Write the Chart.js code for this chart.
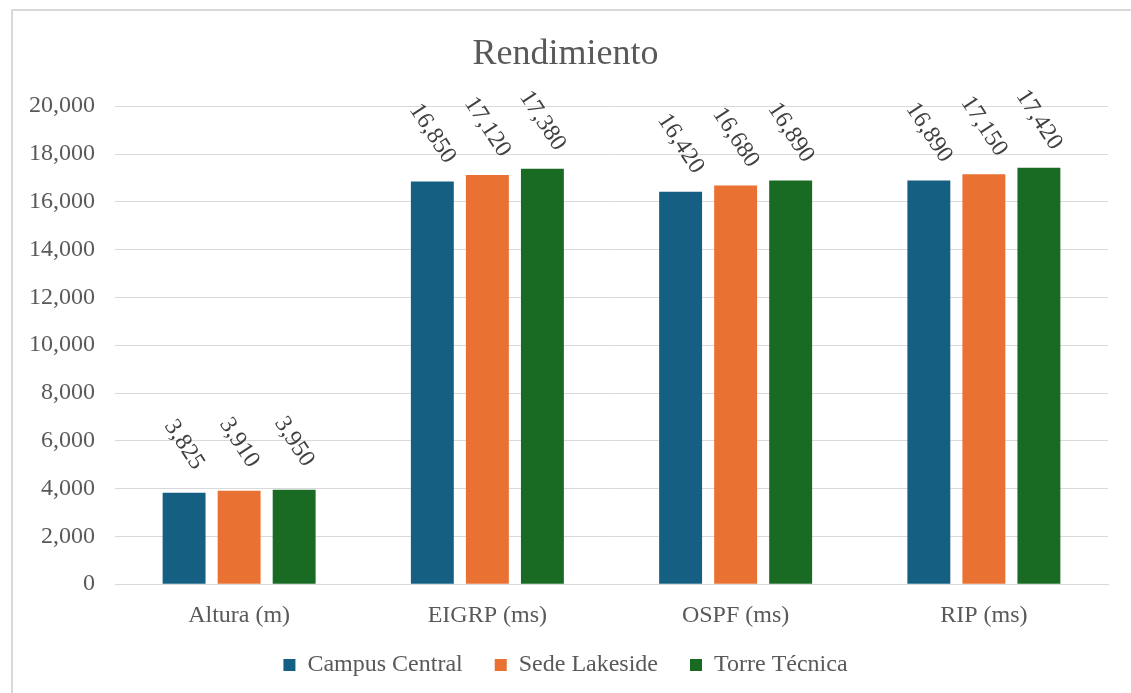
<!DOCTYPE html>
<html>
<head>
<meta charset="utf-8">
<script src="https://cdn.jsdelivr.net/npm/chart.js@4.4.1/dist/chart.umd.min.js"></script>
<style>
  html, body { margin: 0; padding: 0; background: #fff; overflow: hidden; }
  #frame { position: absolute; left: 11px; top: 9px; width: 1200px; height: 760px; border: 2px solid #d9d9d9; box-sizing: border-box; }
  #wrap { position: absolute; left: 0; top: 0; width: 1131px; height: 693px; }
</style>
</head>
<body>
<div id="frame"></div>
<div id="wrap"><canvas id="chart" width="1131" height="693"></canvas></div>
<script>
const categories = ['Altura (m)', 'EIGRP (ms)', 'OSPF (ms)', 'RIP (ms)'];
const seriesNames = ['Campus Central', 'Sede Lakeside', 'Torre Técnica'];
const campusCentral = [3825, 16850, 16420, 16890];
const sedeLakeside = [3910, 17120, 16680, 17150];
const torreTecnica = [3950, 17380, 16890, 17420];
const seriesColors = ['#156082', '#E97132', '#196B24'];
const yTicks = { min: 0, max: 20000, step: 2000 };

const fontFamily = '"Liberation Serif", "Times New Roman", serif';
const textColor = '#595959';

// etiquetas de datos giradas sobre cada barra
const rotatedLabels = {
  id: 'rotatedLabels',
  afterDatasetsDraw(chart) {
    const ctx = chart.ctx;
    ctx.save();
    ctx.font = '24px ' + fontFamily;
    ctx.fillStyle = '#404040';
    ctx.textAlign = 'center';
    ctx.textBaseline = 'middle';
    chart.data.datasets.forEach((ds, di) => {
      chart.getDatasetMeta(di).data.forEach((bar, i) => {
        ctx.save();
        ctx.translate(bar.x, bar.y - 48);
        ctx.rotate(57 * Math.PI / 180);
        ctx.fillText(ds.data[i].toLocaleString('en-US'), 0, 0);
        ctx.restore();
      });
    });
    ctx.restore();
  }
};

const allSeries = [campusCentral, sedeLakeside, torreTecnica];

new Chart(document.getElementById('chart'), {
  type: 'bar',
  data: {
    labels: categories,
    datasets: allSeries.map((vals, i) => ({
      label: seriesNames[i],
      data: vals,
      backgroundColor: seriesColors[i],
      borderWidth: 0,
      barPercentage: 0.78,
      categoryPercentage: 0.665
    }))
  },
  options: {
    responsive: false,
    animation: false,
    layout: { padding: { left: 0, right: 0, top: 0, bottom: 6 } },
    plugins: {
      title: {
        display: true,
        text: 'Rendimiento',
        color: textColor,
        font: { family: fontFamily, size: 36, weight: 'normal' },
        padding: { top: 33, bottom: 30 }
      },
      legend: {
        position: 'bottom',
        labels: {
          color: textColor,
          font: { family: fontFamily, size: 24 },
          boxWidth: 12,
          boxHeight: 12,
          padding: 14,
          generateLabels(chart) {
            const items = Chart.defaults.plugins.legend.labels.generateLabels(chart);
            items.forEach((it, i) => {
              if (i < items.length - 1) it.text = it.text + '   ';
            });
            return items;
          }
        }
      },
      tooltip: { enabled: false }
    },
    scales: {
      x: {
        grid: { display: false },
        border: { color: '#d9d9d9', width: 1 },
        ticks: { color: textColor, font: { family: fontFamily, size: 24 }, padding: 9 }
      },
      y: {
        min: yTicks.min,
        max: yTicks.max,
        afterFit(scale) { scale.width = 115; },
        grid: { color: '#d9d9d9', lineWidth: 1, drawTicks: false },
        border: { display: false },
        ticks: {
          stepSize: yTicks.step,
          color: textColor,
          padding: 20,
          font: { family: fontFamily, size: 24 },
          callback: v => v.toLocaleString('en-US')
        }
      },
      yRight: {
        position: 'right',
        afterFit(scale) { scale.width = 23; },
        grid: { display: false },
        border: { display: false },
        ticks: { display: false }
      }
    }
  },
  plugins: [rotatedLabels]
});
</script>
</body>
</html>
